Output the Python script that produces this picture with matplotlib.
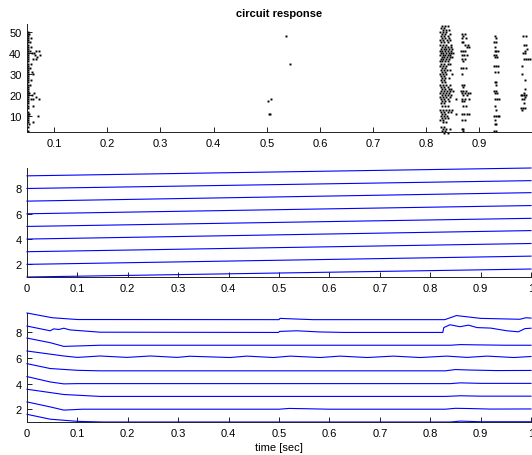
import matplotlib
matplotlib.use("Agg")
import matplotlib.pyplot as plt

plt.rcParams['font.family'] = ['Liberation Sans', 'DejaVu Sans']
plt.rcParams['font.size'] = 8

# ---------------- raster data (neuron, spike times) ----------------
burst_a = [
    (50, [0.050]), (49, [0.050, 0.053]), (48, [0.050]), (47, [0.050, 0.056]),
    (46, [0.050]), (45, [0.050, 0.054]), (44, [0.050]), (43, [0.050, 0.057]),
    (42, [0.050]), (41, [0.050, 0.055, 0.066, 0.072]), (40, [0.050, 0.058, 0.062]),
    (39, [0.050, 0.064, 0.074]), (38, [0.050, 0.068]), (37, [0.050, 0.060, 0.066]),
    (36, [0.050]), (35, [0.050, 0.057]), (34, [0.050]), (33, [0.050, 0.055]),
    (32, [0.050]), (31, [0.050, 0.058]), (30, [0.050, 0.060]), (29, [0.050]),
    (28, [0.050]), (27, [0.050, 0.057]), (26, [0.050]), (25, [0.050, 0.055]),
    (24, [0.050]), (23, [0.050]), (22, [0.050]), (21, [0.050, 0.053, 0.062]),
    (20, [0.050, 0.058]), (19, [0.050, 0.066]), (18, [0.050, 0.056, 0.060, 0.071]),
    (17, [0.050]), (16, [0.050]), (15, [0.050, 0.060]), (14, [0.050]),
    (12, [0.050]), (11, [0.050, 0.052]), (10, [0.050, 0.070]), (9, [0.050]),
    (8, [0.050]), (7, [0.050, 0.060]), (6, [0.053]), (5, [0.050]), (3, [0.050]),
]
burst_b = [
    (48, [0.537]), (35, [0.544]), (18, [0.508]), (17, [0.503]), (11, [0.504, 0.507]),
]
burst_c = [
    (53, [0.830, 0.836, 0.840]), (52, [0.828, 0.834]), (51, [0.832, 0.838, 0.842]),
    (50, [0.826, 0.831, 0.837]), (49, [0.829, 0.835, 0.844]), (48, [0.827, 0.833, 0.840]),
    (47, [0.830, 0.836, 0.843]), (46, [0.825, 0.832, 0.839, 0.845]),
    (45, [0.828, 0.834, 0.841]), (44, [0.826, 0.831, 0.837, 0.846]),
    (43, [0.829, 0.835, 0.840, 0.847]), (42, [0.827, 0.833, 0.838, 0.843, 0.848]),
    (41, [0.825, 0.830, 0.836, 0.841, 0.846]), (40, [0.828, 0.832, 0.837, 0.842, 0.847, 0.850]),
    (39, [0.826, 0.831, 0.835, 0.840, 0.845]), (38, [0.829, 0.834, 0.839, 0.844, 0.849]),
    (37, [0.827, 0.832, 0.838, 0.843]), (36, [0.825, 0.830, 0.836, 0.841]),
    (35, [0.828, 0.834, 0.840, 0.845]), (34, [0.826, 0.832, 0.838]), (33, [0.830, 0.836]),
    (32, [0.827, 0.833, 0.839, 0.845]), (31, [0.829, 0.835]), (30, [0.826, 0.832, 0.838, 0.848]),
    (29, [0.828, 0.834]), (28, [0.830, 0.836, 0.842]), (27, [0.827, 0.833]),
    (26, [0.829, 0.835]), (25, [0.826, 0.832, 0.838, 0.844]), (24, [0.828, 0.834, 0.840]),
    (23, [0.830, 0.836, 0.842, 0.847]), (22, [0.827, 0.833, 0.839, 0.845, 0.850]),
    (21, [0.825, 0.831, 0.837, 0.843]), (20, [0.829, 0.835, 0.841, 0.846]),
    (19, [0.826, 0.832, 0.838, 0.844]), (18, [0.828, 0.834, 0.840]),
    (17, [0.830, 0.836, 0.842]), (16, [0.827, 0.833]), (15, [0.829, 0.835, 0.841]),
    (13, [0.826, 0.832, 0.838, 0.843, 0.848]), (12, [0.828, 0.834, 0.840, 0.846]),
    (11, [0.830, 0.836]), (10, [0.827, 0.833, 0.839]), (9, [0.829, 0.835, 0.841]),
    (8, [0.826, 0.832]), (7, [0.831, 0.837]), (5, [0.828, 0.834]),
    (4, [0.832, 0.838, 0.844]), (3, [0.829, 0.835]), (2, [0.833, 0.841]),
]
burst_d = [
    (49, [0.867, 0.872]), (48, [0.869]), (47, [0.868, 0.874]), (45, [0.867, 0.870]),
    (44, [0.872, 0.878]), (43, [0.876, 0.880]), (41, [0.866, 0.869, 0.873]),
    (39, [0.867, 0.871, 0.876]), (37, [0.868, 0.873]), (36, [0.870]),
    (33, [0.866, 0.870, 0.874]), (30, [0.868]), (25, [0.867, 0.871]), (24, [0.869]),
    (22, [0.866, 0.870, 0.875]), (21, [0.868, 0.872, 0.878, 0.882]), (20, [0.870, 0.876]),
    (18, [0.855, 0.868, 0.873, 0.880]), (17, [0.867, 0.871]), (15, [0.869, 0.874]),
    (11, [0.856, 0.867, 0.871, 0.876, 0.880]), (8, [0.868, 0.872]), (4, [0.867, 0.870]),
    (3, [0.869]),
]
burst_e = [
    (48, [0.929]), (47, [0.931]), (45, [0.928, 0.932]), (43, [0.930]),
    (41, [0.929, 0.932, 0.935]), (39, [0.927, 0.931]), (38, [0.930, 0.933]),
    (34, [0.928, 0.932, 0.935]), (31, [0.930, 0.934]), (26, [0.929, 0.931]), (25, [0.932]),
    (22, [0.928, 0.931]), (21, [0.930, 0.933]), (18, [0.929, 0.933, 0.937]), (15, [0.929]),
    (13, [0.931]), (10, [0.928, 0.931, 0.934, 0.937]), (8, [0.930]), (6, [0.929, 0.932]),
    (3, [0.928, 0.931]),
]
burst_f = [
    (48, [0.982, 0.987]), (44, [0.983, 0.988]), (42, [0.990]), (41, [0.985]),
    (40, [0.982, 0.986]), (37, [0.983, 0.988, 0.992, 0.996]), (34, [0.981]), (30, [0.980]),
    (27, [0.986]), (23, [0.985]), (21, [0.983]), (20, [0.978, 0.981, 0.984, 0.988]),
    (19, [0.986]), (18, [0.980, 0.984]), (16, [0.983]), (14, [0.979, 0.982, 0.985]),
    (13, [0.981]),
]
bursts = [burst_a, burst_b, burst_c, burst_d, burst_e, burst_f]

# ---------------- middle panel: slowly rising traces ----------------
mid_t = [0.0, 1.0]
mid_start = [1, 2, 3, 4, 5, 6, 7, 8, 9]
mid_end = [1.63, 2.65, 3.65, 4.67, 5.64, 6.65, 7.67, 8.62, 9.62]

# ---------------- bottom panel: traces (time, value) ----------------
tr1 = ([0, 0.046, 0.1, 0.15, 0.84, 0.86, 0.9, 1.0],
       [1.6, 1.22, 1.05, 1.0, 1.0, 1.07, 1.02, 1.02])
tr2 = ([0, 0.046, 0.073, 0.11, 0.5, 0.52, 0.55, 0.6, 0.83, 0.85, 0.88, 0.92, 1.0],
       [2.57, 2.18, 1.93, 2.0, 2.0, 2.06, 2.04, 2.0, 2.0, 2.07, 2.05, 2.01, 2.02])
tr3 = ([0, 0.073, 0.145, 0.83, 0.86, 0.9, 1.0],
       [3.56, 3.15, 3.0, 3.0, 3.05, 3.02, 3.02])
tr4 = ([0, 0.046, 0.073, 0.1, 0.84, 0.86, 0.9, 1.0],
       [4.55, 4.13, 3.98, 4.0, 4.0, 4.06, 4.02, 4.02])
tr5 = ([0, 0.046, 0.1, 0.145, 0.83, 0.85, 0.88, 0.93, 1.0],
       [5.56, 5.18, 5.04, 5.0, 5.0, 5.1, 5.06, 5.02, 5.03])
tr6 = ([0, 0.073, 0.1, 0.145, 0.198, 0.245, 0.298, 0.323, 0.403, 0.436, 0.489, 0.522,
        0.582, 0.621, 0.675, 0.727, 0.78, 0.833, 0.873, 0.913, 0.966, 1.0],
       [6.55, 6.16, 6.05, 6.16, 6.05, 6.16, 6.05, 6.14, 6.04, 6.15, 6.04, 6.15,
        6.04, 6.15, 6.04, 6.15, 6.04, 6.15, 6.05, 6.15, 6.04, 6.12])
tr7 = ([0, 0.046, 0.073, 0.106, 0.145, 0.84, 0.86, 0.89, 0.95, 1.0],
       [7.56, 7.2, 6.91, 6.95, 7.0, 7.0, 7.05, 7.03, 7.0, 7.0])
tr8 = ([0, 0.046, 0.053, 0.063, 0.073, 0.085, 0.145, 0.499, 0.501, 0.535, 0.58, 0.63,
        0.825, 0.827, 0.839, 0.859, 0.876, 0.893, 0.92, 0.952, 0.975, 0.988, 1.0],
       [8.5, 8.13, 8.28, 8.23, 8.33, 8.2, 8.02, 8.0, 8.08, 8.13, 8.04, 8.0,
        8.0, 8.38, 8.6, 8.45, 8.57, 8.38, 8.34, 8.13, 8.05, 8.3, 8.33])
tr9 = ([0, 0.05, 0.1, 0.5, 0.502, 0.52, 0.567, 0.829, 0.852, 0.9, 0.978, 0.99, 1.0],
       [9.52, 9.15, 9.01, 9.0, 9.1, 9.07, 9.0, 9.0, 9.32, 9.1, 9.03, 9.15, 9.12])
traces = [tr1, tr2, tr3, tr4, tr5, tr6, tr7, tr8, tr9]

time_ticks = [0, 0.1, 0.2, 0.3, 0.4, 0.5, 0.6, 0.7, 0.8, 0.9, 1]
time_labels = ['0', '0.1', '0.2', '0.3', '0.4', '0.5', '0.6', '0.7', '0.8', '0.9', '1']

# ---------------- figure ----------------
W, H = 532, 456
fig = plt.figure(figsize=(W / 100, H / 100), dpi=100)
left, width = 27 / W, 504 / W
ax1 = fig.add_axes([left, 1 - 133 / H, width, 108 / H])
ax2 = fig.add_axes([left, 1 - 278 / H, width, 109 / H])
ax3 = fig.add_axes([left, 1 - 423 / H, width, 109 / H])

blue = '#0000ff'

for burst in bursts:
    xs, ys = [], []
    for n, times in burst:
        for t in times:
            xs.append(t)
            ys.append(n)
    ax1.plot(xs, ys, linestyle='none', marker='s', ms=1.4, mew=0, color='black', clip_on=False)
ax1.set_xlim(0.049, 0.997)
ax1.set_ylim(2.4, 53.8)
ax1.set_xticks(time_ticks[1:10])
ax1.set_xticklabels(time_labels[1:10])
ax1.set_yticks([10, 20, 30, 40, 50])
ax1.set_title('circuit response', fontweight='bold', fontsize=8, pad=6)

for s, e in zip(mid_start, mid_end):
    ax2.plot(mid_t, [s, e], color=blue, lw=0.8, clip_on=False)
ax2.set_xlim(0, 1)
ax2.set_ylim(1, 9.62)
ax2.set_xticks(time_ticks)
ax2.set_xticklabels(time_labels)
ax2.set_yticks([2, 4, 6, 8])

for t, v in traces:
    ax3.plot(t, v, color=blue, lw=0.8, clip_on=False)
ax3.set_xlim(0, 1)
ax3.set_ylim(1, 9.52)
ax3.set_xticks(time_ticks)
ax3.set_xticklabels(time_labels)
ax3.set_yticks([2, 4, 6, 8])
ax3.set_xlabel('time [sec]', fontsize=8, labelpad=3)

for ax in (ax1, ax2, ax3):
    ax.spines['top'].set_visible(False)
    ax.spines['right'].set_visible(False)
    for sp in ('left', 'bottom'):
        ax.spines[sp].set_linewidth(0.7)
        ax.spines[sp].set_color('#222222')
    ax.tick_params(direction='in', length=3.5, width=0.7, labelsize=8, pad=4,
                   color='#222222')

fig.savefig('out.png', dpi=100)
